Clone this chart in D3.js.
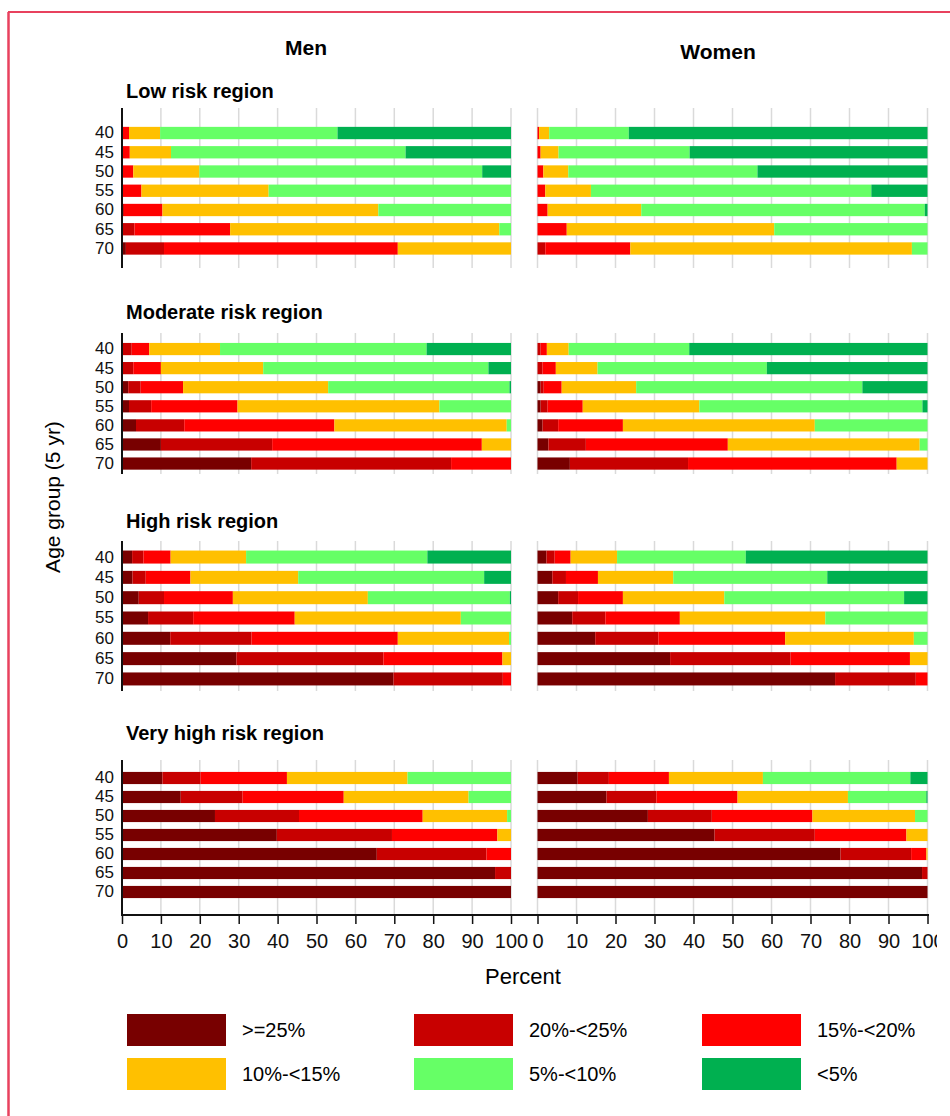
<!DOCTYPE html>
<html>
<head>
  <title>Risk distribution by age group</title>
  <script src="https://d3js.org/d3.v7.min.js"></script>
  <style>
    body { margin: 0; background: #fff; }
    svg { display: block; font-family: "Liberation Sans", Arial, sans-serif; }
  </style>
</head>
<body>
<svg id="chart" width="950" height="1116"></svg>
<script>
// categories of 10-year risk, darkest first
var categories = [">=25%", "20%-<25%", "15%-<20%", "10%-<15%", "5%-<10%", "<5%"];
var colors = ["#780000", "#c80000", "#ff0000", "#ffc000", "#66ff66", "#00b050"];
var ages = ["40", "45", "50", "55", "60", "65", "70"];
var regions = ["Low risk region", "Moderate risk region", "High risk region", "Very high risk region"];
var sexes = ["Men", "Women"];
var ticks = [0, 10, 20, 30, 40, 50, 60, 70, 80, 90, 100];

// percent of each age group in each category (rows = ages, cols = categories)
var lowMen = [
  [0, 0, 1.8, 8.0, 45.6, 44.6],
  [0, 0, 2.0, 10.6, 60.3, 27.1],
  [0, 0, 2.9, 17.0, 72.7, 7.4],
  [0, 0, 5.0, 32.7, 62.3, 0],
  [0, 0.5, 9.9, 55.5, 34.1, 0],
  [0, 3.2, 24.6, 69.2, 3.0, 0],
  [1.0, 9.8, 60.1, 29.1, 0, 0]
];
var lowWomen = [
  [0, 0, 0.4, 2.6, 20.4, 76.6],
  [0, 0, 0.8, 4.6, 33.6, 61.0],
  [0, 0, 1.5, 6.4, 48.5, 43.6],
  [0, 0, 2.0, 11.7, 71.9, 14.4],
  [0, 0, 2.6, 24.0, 72.7, 0.7],
  [0, 0, 7.5, 53.2, 39.3, 0],
  [0, 2.0, 21.8, 72.2, 4.0, 0]
];
var modMen = [
  [0, 2.5, 4.5, 18.2, 53.1, 21.7],
  [0, 2.9, 7.1, 26.3, 57.9, 5.8],
  [1.6, 3.2, 10.9, 37.3, 46.6, 0.4],
  [1.8, 5.7, 22.2, 51.9, 18.4, 0],
  [3.6, 12.4, 38.6, 44.3, 1.1, 0],
  [10.0, 28.6, 53.9, 7.5, 0, 0],
  [33.2, 51.4, 15.4, 0, 0, 0]
];
var modWomen = [
  [0, 0.8, 1.6, 5.6, 30.9, 61.1],
  [0, 1.3, 3.4, 10.7, 43.4, 41.2],
  [0.8, 0.8, 4.6, 19.1, 58.0, 16.7],
  [0.8, 1.8, 9.0, 29.9, 57.2, 1.3],
  [1.3, 4.0, 16.6, 49.2, 28.9, 0],
  [2.8, 9.6, 36.4, 49.2, 2.0, 0],
  [8.3, 30.3, 53.5, 7.9, 0, 0]
];
var highMen = [
  [2.6, 2.9, 7.0, 19.4, 46.6, 21.5],
  [2.7, 3.4, 11.5, 27.7, 47.8, 6.9],
  [4.3, 6.5, 17.7, 34.7, 36.5, 0.3],
  [6.7, 11.6, 26.1, 42.7, 12.9, 0],
  [12.4, 20.9, 37.6, 28.6, 0.5, 0],
  [29.4, 37.8, 30.6, 2.2, 0, 0],
  [69.8, 28.1, 2.1, 0, 0, 0]
];
var highWomen = [
  [2.3, 2.1, 4.1, 11.9, 33.0, 46.6],
  [3.8, 3.5, 8.2, 19.3, 39.5, 25.7],
  [5.3, 5.1, 11.5, 26.0, 46.1, 6.0],
  [8.9, 8.5, 19.1, 37.3, 26.2, 0],
  [14.8, 16.2, 32.5, 33.0, 3.5, 0],
  [34.0, 30.9, 30.6, 4.5, 0, 0],
  [76.3, 20.7, 3.0, 0, 0, 0]
];
var vhighMen = [
  [10.4, 9.8, 22.2, 31.0, 26.6, 0],
  [15.1, 15.9, 26.0, 32.1, 10.9, 0],
  [23.9, 21.6, 31.8, 21.7, 1.0, 0],
  [39.8, 29.6, 27.1, 3.5, 0, 0],
  [65.5, 28.2, 6.3, 0, 0, 0],
  [95.9, 4.1, 0, 0, 0, 0],
  [100, 0, 0, 0, 0, 0]
];
var vhighWomen = [
  [10.3, 8.0, 15.4, 24.1, 37.8, 4.4],
  [17.7, 12.8, 20.8, 28.3, 20.1, 0.3],
  [28.3, 16.4, 25.8, 26.3, 3.2, 0],
  [45.4, 25.7, 23.5, 5.4, 0, 0],
  [77.7, 18.1, 3.9, 0.3, 0, 0],
  [98.6, 1.4, 0, 0, 0, 0],
  [100, 0, 0, 0, 0, 0]
];

var tables = [[lowMen, lowWomen], [modMen, modWomen], [highMen, highWomen], [vhighMen, vhighWomen]];

// panel geometry (vertical): title, grid extent, band range
var panels = [
  {title: 91,  top: 108, bottom: 268, y0: 123.4, y1: 258.1},
  {title: 312, top: 333, bottom: 474, y0: 339.5, y1: 473.1},
  {title: 521, top: 541, bottom: 691, y0: 546.9, y1: 689.1},
  {title: 733, top: 760, bottom: 915, y0: 768.5, y1: 901.5}
];

var svg = d3.select("#chart");

// thin frame like the reference
svg.append("line").attr("x1", 8).attr("x2", 950).attr("y1", 12).attr("y2", 12)
  .attr("stroke", "#e8415e").attr("stroke-width", 2);
svg.append("line").attr("x1", 8.5).attr("x2", 8.5).attr("y1", 12).attr("y2", 1116)
  .attr("stroke", "#e8415e").attr("stroke-width", 2.5);

svg.append("clipPath").attr("id", "clip")
  .append("rect").attr("x", 0).attr("y", 0).attr("width", 937).attr("height", 1116);

var g = svg.append("g").attr("clip-path", "url(#clip)");

var xScales = [
  d3.scaleLinear().domain([0, 100]).range([122, 511]),
  d3.scaleLinear().domain([0, 100]).range([537.5, 927.5])
];
var color = d3.scaleOrdinal().domain(categories).range(colors);
var stack = d3.stack().keys(categories);

// column titles
g.append("text").attr("x", 306).attr("y", 47).attr("text-anchor", "middle")
  .attr("dominant-baseline", "central").attr("font-weight", "bold").attr("font-size", 21).text(sexes[0]);
g.append("text").attr("x", 718).attr("y", 51).attr("text-anchor", "middle")
  .attr("dominant-baseline", "central").attr("font-weight", "bold").attr("font-size", 21).text(sexes[1]);

panels.forEach(function(p, ri) {
  g.append("text").attr("x", 126).attr("y", p.title)
    .attr("dominant-baseline", "central").attr("font-weight", "bold").attr("font-size", 20)
    .text(regions[ri]);

  var y = d3.scaleBand().domain(ages).range([p.y0, p.y1]).paddingInner(0.36).paddingOuter(0.18);

  sexes.forEach(function(s, si) {
    var x = xScales[si];
    // grid lines
    g.append("g").selectAll("line").data(ticks).enter().append("line")
      .attr("x1", function(d) { return x(d); }).attr("x2", function(d) { return x(d); })
      .attr("y1", p.top).attr("y2", p.bottom)
      .attr("stroke", "#dadada").attr("stroke-width", 1.5);

    var rows = tables[ri][si].map(function(r, i) {
      var o = {age: ages[i]};
      categories.forEach(function(c, k) { o[c] = r[k]; });
      return o;
    });
    var series = stack(rows);

    g.append("g").selectAll("g").data(series).enter().append("g")
      .attr("fill", function(d) { return color(d.key); })
      .selectAll("rect").data(function(d) { return d; }).enter().append("rect")
      .attr("x", function(d) { return x(d[0]); })
      .attr("width", function(d) { return Math.max(0, x(d[1]) - x(d[0])); })
      .attr("y", function(d) { return y(d.data.age); })
      .attr("height", y.bandwidth());

    if (si === 0) {
      var ax = g.append("g").attr("transform", "translate(" + x(0) + ",0)")
        .call(d3.axisLeft(y).tickSize(0).tickPadding(8));
      ax.select(".domain").attr("d", "M0," + p.top + "V" + p.bottom)
        .attr("stroke", "#111").attr("stroke-width", 2);
      ax.selectAll("text").attr("font-size", 17).attr("fill", "#111")
        .attr("font-family", "Liberation Sans, Arial, sans-serif");
    }
  });
});

// bottom axis across both columns
g.append("line").attr("x1", 121).attr("x2", 929).attr("y1", 915).attr("y2", 915)
  .attr("stroke", "#111").attr("stroke-width", 2);
xScales.forEach(function(x) {
  var ax = g.append("g").attr("transform", "translate(0,915)")
    .call(d3.axisBottom(x).tickValues(ticks).tickSize(9).tickPadding(10).tickFormat(d3.format("d")));
  ax.select(".domain").remove();
  ax.selectAll("line").attr("stroke", "#111").attr("stroke-width", 1.5);
  ax.selectAll("text").attr("font-size", 20).attr("fill", "#111")
    .attr("font-family", "Liberation Sans, Arial, sans-serif");
});

g.append("text").attr("x", 523).attr("y", 976).attr("text-anchor", "middle")
  .attr("dominant-baseline", "central").attr("font-size", 22).text("Percent");

g.append("text").attr("transform", "translate(52,497) rotate(-90)")
  .attr("text-anchor", "middle").attr("dominant-baseline", "central")
  .attr("font-size", 21).text("Age group (5 yr)");

// legend, 3 columns x 2 rows
var legX = [127, 414, 702], legY = [1014, 1058];
var leg = g.append("g").selectAll("g").data(categories).enter().append("g")
  .attr("transform", function(d, i) { return "translate(" + legX[i % 3] + "," + legY[Math.floor(i / 3)] + ")"; });
leg.append("rect").attr("width", 99).attr("height", 32).attr("fill", function(d) { return color(d); });
leg.append("text").attr("x", 115).attr("y", 16).attr("dominant-baseline", "central")
  .attr("font-size", 20).text(function(d) { return d; });
</script>
</body>
</html>
